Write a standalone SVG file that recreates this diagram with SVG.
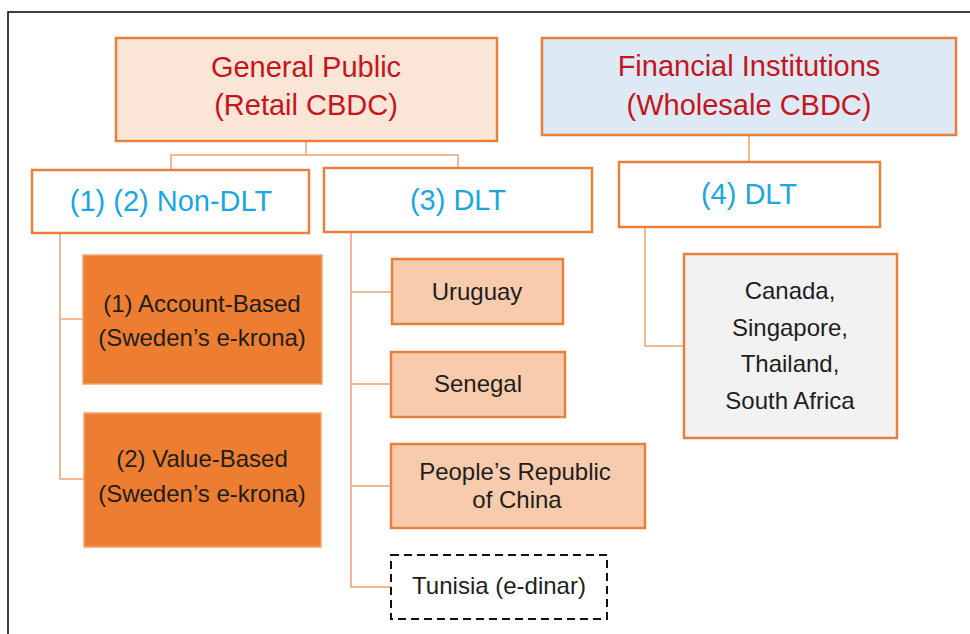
<svg xmlns="http://www.w3.org/2000/svg" width="970" height="634" viewBox="0 0 970 634">
<style>
text{font-family:"Liberation Sans",Arial,sans-serif;text-anchor:middle}
.box{stroke:#e8803c;stroke-width:2.5}
.t1{font-size:29px;fill:#c4161c}
.t2{font-size:29px;fill:#1aa7e0}
.t3{font-size:24px;fill:#1e1e1e}
.con{fill:none;stroke:#eca173;stroke-width:1.5}
</style>
<rect width="970" height="634" fill="#ffffff"/>
<path d="M8 634 V12 H970" fill="none" stroke="#000" stroke-width="1.5"/>
<g id="connectors">
<path class="con" d="M306 141 V155 M171 170 V155 H458 V168"/>
<path class="con" d="M749 135 V162"/>
<path class="con" d="M60 233 V479 H84 M60 319 H83"/>
<path class="con" d="M351 232 V587 H391 M351 292 H392 M351 384 H391 M351 486 H391"/>
<path class="con" d="M645 227 V346 H684"/>
</g>
<g id="general-public">
<rect class="box" x="116" y="38" width="381" height="103" fill="#fbe5d6"/>
<text class="t1" x="306" y="77">General Public</text>
<text class="t1" x="306" y="115">(Retail CBDC)</text>
</g>
<g id="financial-institutions">
<rect class="box" x="542" y="38" width="414" height="97" fill="#dde9f5"/>
<text class="t1" x="749" y="76">Financial Institutions</text>
<text class="t1" x="749" y="115">(Wholesale CBDC)</text>
</g>
<g id="non-dlt">
<rect class="box" x="32" y="170" width="277" height="63" fill="#fff"/>
<text class="t2" x="171" y="211">(1) (2) Non-DLT</text>
</g>
<g id="dlt3">
<rect class="box" x="324" y="168" width="268" height="64" fill="#fff"/>
<text class="t2" x="458" y="210">(3) DLT</text>
</g>
<g id="dlt4">
<rect class="box" x="619" y="162" width="261" height="65" fill="#fff"/>
<text class="t2" x="749" y="204">(4) DLT</text>
</g>
<g id="account-based">
<rect x="83" y="255" width="239" height="129" fill="#ed7d31" stroke="#f0a470" stroke-width="1.5"/>
<text class="t3" x="202" y="312">(1) Account-Based</text>
<text class="t3" x="202" y="346">(Sweden’s e-krona)</text>
</g>
<g id="value-based">
<rect x="84" y="413" width="237" height="134" fill="#ed7d31" stroke="#f0a470" stroke-width="1.5"/>
<text class="t3" x="202" y="467">(2) Value-Based</text>
<text class="t3" x="202" y="502">(Sweden’s e-krona)</text>
</g>
<g id="uruguay">
<rect class="box" x="392" y="259" width="171" height="65" fill="#f8cbad"/>
<text class="t3" x="477" y="300">Uruguay</text>
</g>
<g id="senegal">
<rect class="box" x="391" y="352" width="174" height="65" fill="#f8cbad"/>
<text class="t3" x="478" y="392">Senegal</text>
</g>
<g id="china">
<rect class="box" x="391" y="444" width="254" height="84" fill="#f8cbad"/>
<text class="t3" x="515" y="480">People’s Republic</text>
<text class="t3" x="517" y="508">of China</text>
</g>
<g id="tunisia">
<rect x="391" y="555" width="216" height="64" fill="#fff" stroke="#111" stroke-width="2" stroke-dasharray="8 5"/>
<text class="t3" x="499" y="594" fill="#2a2a2a">Tunisia (e-dinar)</text>
</g>
<g id="wholesale-countries">
<rect class="box" x="684" y="254" width="213" height="184" fill="#f2f2f2"/>
<text class="t3" x="790" y="299">Canada,</text>
<text class="t3" x="790" y="336">Singapore,</text>
<text class="t3" x="790" y="372">Thailand,</text>
<text class="t3" x="790" y="409">South Africa</text>
</g>
</svg>
